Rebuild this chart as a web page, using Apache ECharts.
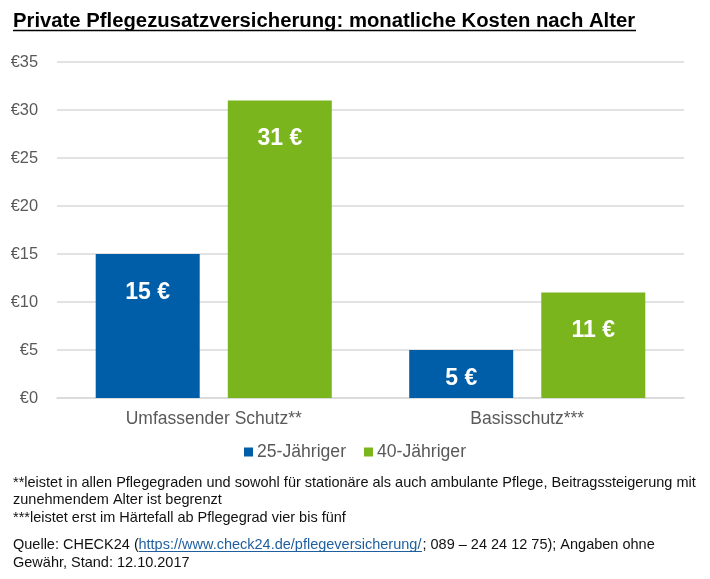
<!DOCTYPE html>
<html><head><meta charset="utf-8">
<style>html,body{margin:0;padding:0;background:#fff}#c{width:710px;height:579px}</style>
<script src="https://cdn.jsdelivr.net/npm/echarts@6/dist/echarts.min.js"></script>
</head><body><div id="c"></div>
<script>
const categories = ['Umfassender Schutz**', 'Basisschutz***'];
const series25 = [15, 5];
const series40 = [31, 11];
const seriesNames = ['25-Jähriger', '40-Jähriger'];
const titleText = 'Private Pflegezusatzversicherung: monatliche Kosten nach Alter';
const font = '"Liberation Sans", Arial, sans-serif';
const gray = '#595959';
function txt(x, y, text, size, color, weight) {
  return {type:'text', x, y, style:{text, fontFamily:font, fontSize:size, fill:color||'#111', fontWeight:weight||'normal', textVerticalAlign:'middle'}, silent:true};
}
function line(x1, x2, y, color, w) {
  return {type:'line', shape:{x1, y1:y, x2, y2:y}, style:{stroke:color, lineWidth:w}, silent:true};
}
const chart = echarts.init(document.getElementById('c'), null, {renderer:'canvas'});
const lbl = {show:true, position:'insideTop', distance:27, formatter:p => p.value + ' €', color:'#fff', fontFamily:font, fontSize:23, fontWeight:'bold'};
const withLabel = arr => arr.map(v => v <= 5 ? {value:v, label:{distance:17}} : v);
chart.setOption({
  animation:false,
  backgroundColor:'#fff',
  grid:{left:57, right:26, top:62, bottom:181},
  legend:{
    data:seriesNames, bottom:113, left:'center', itemWidth:9, itemHeight:9, itemGap:18, icon:'rect',
    textStyle:{color:gray, fontFamily:font, fontSize:17.6, padding:[0,0,0,-1]}
  },
  xAxis:{type:'category', data:categories,
    axisLine:{lineStyle:{color:'#d9d9d9', width:1.5}}, axisTick:{show:false},
    axisLabel:{color:gray, fontFamily:font, fontSize:17.5, margin:12}},
  yAxis:{type:'value', min:0, max:35, interval:5,
    axisLine:{show:false}, axisTick:{show:false},
    splitLine:{lineStyle:{color:'#d9d9d9', width:1.5}},
    axisLabel:{color:gray, fontFamily:font, fontSize:16.4, margin:19, padding:[2,0,0,0], formatter:v => '€' + v}},
  series:[
    {name:seriesNames[0], type:'bar', data:withLabel(series25), barWidth:104, barGap:'27%', itemStyle:{color:'#005ea8'}, label:lbl},
    {name:seriesNames[1], type:'bar', data:withLabel(series40), barWidth:104, itemStyle:{color:'#7ab51d'}, label:lbl}
  ],
  graphic:[
    txt(13, 21, titleText, 20.3, '#000', 'bold'),
    line(13, 636, 30.5, '#000', 1.6),
    txt(13, 483, '**leistet in allen Pflegegraden und sowohl für stationäre als auch ambulante Pflege, Beitragssteigerung mit', 14.5),
    txt(13, 500, 'zunehmendem Alter ist begrenzt', 14.5),
    txt(13, 517.5, '***leistet erst im Härtefall ab Pflegegrad vier bis fünf', 14.5),
    txt(13, 545, 'Quelle: CHECK24 (', 14.5),
    txt(138.5, 545, 'https://www.check24.de/pflegeversicherung/', 14.5, '#1f5f9f'),
    line(139, 422, 551.5, '#1f5f9f', 1),
    txt(422.5, 545, '; 089 – 24 24 12 75); Angaben ohne', 14.5),
    txt(13, 562.5, 'Gewähr, Stand: 12.10.2017', 14.5)
  ]
});
</script></body></html>
